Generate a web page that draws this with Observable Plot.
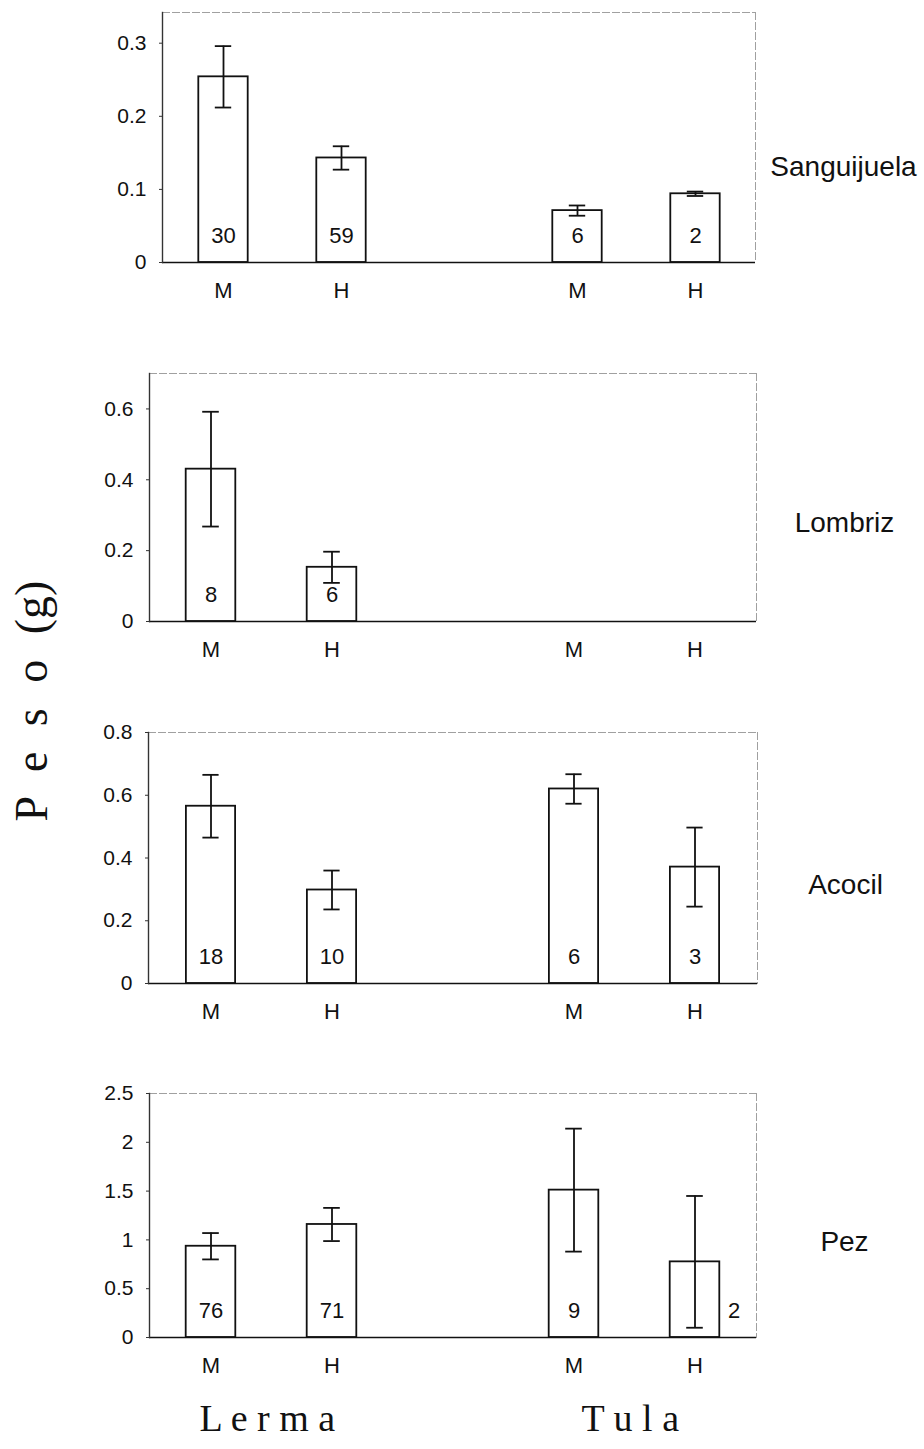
<!DOCTYPE html>
<html>
<head>
<meta charset="utf-8">
<script src="https://cdn.jsdelivr.net/npm/d3@7"></script>
<script src="https://cdn.jsdelivr.net/npm/@observablehq/plot@0.6"></script>
<style>
  body { margin: 0; background: #fff; }
  #fig { position: relative; width: 924px; height: 1449px; background: #fff; overflow: hidden; }
  .panel { position: absolute; left: 0; }
  #ytitle {
    position: absolute; left: 31px; top: 701px;
    transform: translate(-50%, -50%) rotate(-90deg);
    font-family: "Liberation Serif", "Times New Roman", serif;
    font-size: 46px; word-spacing: 14px; white-space: nowrap; color: #111;
  }
</style>
</head>
<body>
<div id="fig"><div id="ytitle">P e s o (g)</div></div>
<script>
// Body weight (g) of each prey type by site and sex (M, H)
const species = ["Sanguijuela", "Lombriz", "Acocil", "Pez"];
const sites = ["Lerma", "Tula"];
const sexes = ["M", "H"];

// values in order: Lerma M, Lerma H, Tula M, Tula H
const sanguijuelaMean = [0.254, 0.143, 0.071, 0.094];
const sanguijuelaErr  = [0.042, 0.016, 0.007, 0.003];
const sanguijuelaN    = [30, 59, 6, 2];

const lombrizMean = [0.43, 0.153, null, null];
const lombrizErr  = [0.162, 0.044, null, null];
const lombrizN    = [8, 6, null, null];

const acocilMean = [0.565, 0.298, 0.62, 0.371];
const acocilErr  = [0.1, 0.062, 0.047, 0.126];
const acocilN    = [18, 10, 6, 3];

const pezMean = [0.935, 1.158, 1.51, 0.775];
const pezErr  = [0.135, 0.17, 0.63, 0.675];
const pezN    = [76, 71, 9, 2];

// y-axis extent and tick values of each panel
const yMax = [0.342, 0.7, 0.8, 2.5];
const yTicks = [
  [0, 0.1, 0.2, 0.3],
  [0, 0.2, 0.4, 0.6],
  [0, 0.2, 0.4, 0.6, 0.8],
  [0, 0.5, 1, 1.5, 2, 2.5]
];

const means = [sanguijuelaMean, lombrizMean, acocilMean, pezMean];
const errs = [sanguijuelaErr, lombrizErr, acocilErr, pezErr];
const counts = [sanguijuelaN, lombrizN, acocilN, pezN];

// panel frames in page pixels
const frames = [
  {top: 12,   bottom: 262,  left: 162, right: 755, nameDy: 30},
  {top: 373,  bottom: 621,  left: 149, right: 756, nameDy: 26},
  {top: 732,  bottom: 983,  left: 148, right: 757, nameDy: 27},
  {top: 1093, bottom: 1337, left: 149, right: 756, nameDy: 27}
];

const INK = "#111";
const BORDER = "#a0a0a0";
const sans = "'Liberation Sans', Arial, sans-serif";
const serif = "'Liberation Serif', 'Times New Roman', serif";

// x bands: the two sexes of each site, with an empty band between sites
const GAP = "·";
const keys = [];
sites.forEach((s, i) => {
  if (i > 0) keys.push(GAP);
  sexes.forEach(x => keys.push(s + "|" + x));
});

const fig = document.getElementById("fig");
const fmt = d3.format("~g");

species.forEach((name, p) => {
  const f = frames[p];
  const last = p === species.length - 1;
  const marginTop = 12;
  const marginBottom = last ? 112 : 50;
  const frameH = f.bottom - f.top;
  const bw = (f.right - f.left) / keys.length;
  const barInset = (bw - 50) / 2;
  const capInset = (bw - 17) / 2;

  const rows = [];
  let k = 0;
  sites.forEach(s => sexes.forEach(x => {
    rows.push({key: s + "|" + x, mean: means[p][k], err: errs[p][k], n: counts[p][k]});
    k++;
  }));
  const shown = rows.filter(d => d.mean != null);
  const lo = d => d.mean - d.err;
  const hi = d => d.mean + d.err;
  // a count label moves beside its bar when the error bar reaches into it
  const crowded = d => frameH * lo(d) / yMax[p] < 32;

  const marks = [
    Plot.frame({anchor: "top", stroke: BORDER, strokeDasharray: "7,3"}),
    Plot.frame({anchor: "right", stroke: BORDER, strokeDasharray: "7,3"}),
    Plot.barY(shown, {x: "key", y: "mean", fill: "white", stroke: INK, strokeWidth: 1.8,
      insetLeft: barInset, insetRight: barInset}),
    Plot.ruleX(shown, {x: "key", y1: lo, y2: hi, stroke: INK, strokeWidth: 1.8}),
    Plot.tickY(shown, {x: "key", y: lo, stroke: INK, strokeWidth: 1.8, insetLeft: capInset, insetRight: capInset}),
    Plot.tickY(shown, {x: "key", y: hi, stroke: INK, strokeWidth: 1.8, insetLeft: capInset, insetRight: capInset}),
    Plot.ruleY([0], {stroke: INK, strokeWidth: 1.6}),
    Plot.frame({anchor: "left", stroke: "#333", strokeWidth: 1.4}),
    Plot.axisY({ticks: yTicks[p], tickFormat: fmt, tickSize: 3, tickPadding: 13,
      fontSize: 21, fill: INK, stroke: "#333", label: null}),
    Plot.axisX({tickSize: 0, tickPadding: 20, fontSize: 22, fill: INK, label: null,
      tickFormat: key => key === GAP ? "" : key.split("|")[1]}),
    Plot.text(shown.filter(d => !crowded(d)), {x: "key", text: "n", frameAnchor: "bottom",
      dy: -20, fontSize: 22, fill: INK}),
    Plot.text(shown.filter(crowded), {x: "key", text: "n", frameAnchor: "bottom",
      dy: -20, dx: 39, fontSize: 22, fill: INK}),
    Plot.text([name], {frameAnchor: "right", dx: 88, dy: f.nameDy, textAnchor: "middle",
      fontSize: 28, fill: INK})
  ];

  if (last) {
    // site names centred under each pair of bars
    marks.push(Plot.text(sites, {x: s => s + "|H", dx: -bw / 2 - 4, frameAnchor: "bottom", dy: 93,
      text: s => s.split("").join(" "), fontFamily: serif, fontSize: 38, fill: INK}));
  }

  const chart = Plot.plot({
    width: 924,
    height: marginTop + frameH + marginBottom,
    marginTop,
    marginBottom,
    marginLeft: f.left,
    marginRight: 924 - f.right,
    style: {fontFamily: sans, color: INK, background: "transparent", overflow: "visible"},
    x: {type: "band", domain: keys, padding: 0, axis: null},
    y: {domain: [0, yMax[p]], axis: null},
    marks
  });
  chart.classList.add("panel");
  chart.style.top = (f.top - marginTop) + "px";
  fig.appendChild(chart);
});
</script>
</body>
</html>
